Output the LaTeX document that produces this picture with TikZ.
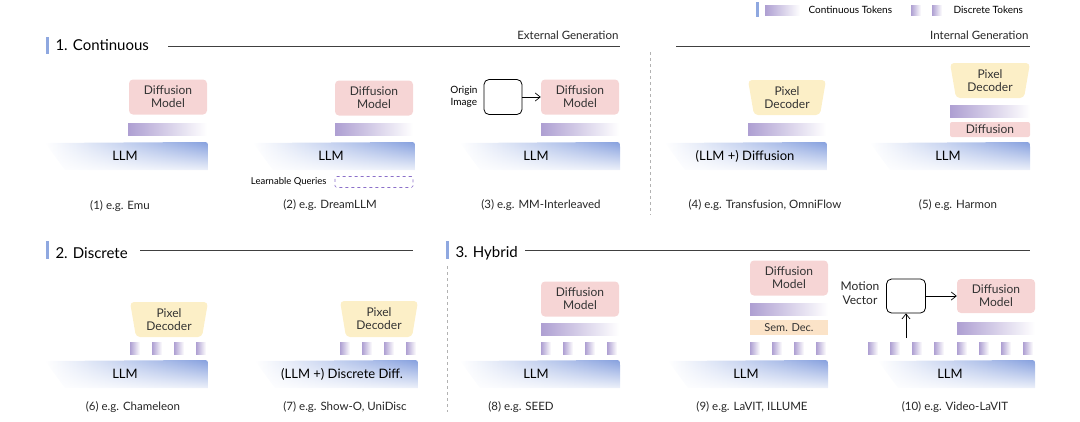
\documentclass[tikz,border=0pt]{standalone}
\usepackage{fontspec}
\setmainfont{Lato}
\usetikzlibrary{fadings,arrows.meta}
\definecolor{dm}{HTML}{F6D5D5}
\definecolor{pd}{HTML}{FCEFC7}
\definecolor{sd}{HTML}{FBE3C8}
\definecolor{tok}{HTML}{AE9FD2}
\definecolor{llmb}{HTML}{86A0DE}
\definecolor{secb}{HTML}{8FA8E0}
\definecolor{lqc}{HTML}{8B6FC9}
\tikzfading[name=llmfade, top color=transparent!0, bottom color=transparent!85]
\tikzset{
 dmbox/.style={fill=dm,rounded corners=4pt,inner sep=0pt,align=center,font=\fontsize{12}{13}\selectfont,text=black!80},
 captxt/.style={font=\fontsize{11.5}{12}\selectfont,text=black!85},
 llmtxt/.style={font=\fontsize{13}{14}\selectfont},
 head/.style={font=\fontsize{15}{16}\selectfont,anchor=west},
 hline/.style={draw=black!75,line width=0.8pt},
 arr/.style={-{Straight Barb[length=5pt,width=8pt]},line width=0.7pt},
}
\newcommand{\tokbar}[4]{\shade[left color=tok,right color=white] (#1,#3) rectangle (#2,#4);}
\newcommand{\dtoks}[3]{\foreach \xx in {#1}{\shade[left color=tok,right color=white] (\xx,#2) rectangle ++(10,#3);}}
\newcommand{\llmshape}[4]{\shade[left color=white,right color=llmb,path fading=llmfade]
  (#1,#3+1) -- (#2-6,#3) .. controls (#2,#3) .. (#2,#3+6) -- (#2,#4) -- (#1+20,#4) -- cycle;}
\newcommand{\pdec}[6]{\coordinate (#5) at ({(#1+#2)/2},{(#3+#4)/2});
  \fill[pd,rounded corners=4pt] (#1,#3) -- (#2,#3) -- (#2-6,#4) -- (#1+6,#4) -- cycle;
  \node[align=center,font=\fontsize{12}{13}\selectfont,text=black!80] (#5t) at (#5) {#6};}
\begin{document}
\begin{tikzpicture}[x=1pt,y=-1pt]
\useasboundingbox (0,0) rectangle (1080,421);
% legend
\fill[secb] (756,2) rectangle (759,17);
\tokbar{765}{800}{5}{15}
\node[font=\fontsize{10}{11}\selectfont,anchor=west] (lc) at (805,10) {Continuous Tokens};
\dtoks{911,932}{5}{10}
\node[font=\fontsize{10}{11}\selectfont,anchor=west] (ld) at (950,10) {Discrete Tokens};
% headings
\fill[secb] (46,37) rectangle (49,54);
\node[head] (h1) at (52,45) {1. Continuous};
\coordinate (l1a) at (168,46); \coordinate (l1b) at (620,46);
\draw[hline] (l1a) -- (l1b);
\node[captxt,anchor=south east] (eg) at (622,43) {External Generation};
\coordinate (l1c) at (676,46); \coordinate (l1d) at (1030,46);
\draw[hline] (l1c) -- (l1d);
\node[captxt,anchor=south east] (ig) at (1032,43) {Internal Generation};
\coordinate (v1a) at (650,52); \coordinate (v1b) at (650,215);
\draw[black!30,dashed] (v1a) -- (v1b);
\fill[secb] (46,241) rectangle (49,259);
\node[head] (h2) at (52,253) {2. Discrete};
\coordinate (l2a) at (140,250); \coordinate (l2b) at (413,250);
\draw[hline] (l2a) -- (l2b);
\fill[secb] (446,241) rectangle (449,259);
\node[head] (h3) at (452,253) {3. Hybrid};
\coordinate (l3a) at (525,250); \coordinate (l3b) at (1030,250);
\draw[hline] (l3a) -- (l3b);
\coordinate (v2a) at (447,266); \coordinate (v2b) at (447,412);
\draw[black!30,dashed] (v2a) -- (v2b);
% panel 1
\node[dmbox,minimum width=78pt,minimum height=35pt] (dm1) at (168,97) {Diffusion\\Model};
\tokbar{128}{207}{123}{135}
\llmshape{45}{208}{142}{170}
\node[llmtxt] (llm1) at (125,156) {LLM};
\node[captxt] (c1) at (120,206) {(1) e.g. Emu};
% panel 2
\node[dmbox,minimum width=78pt,minimum height=35pt] (dm2) at (374,98) {Diffusion\\Model};
\tokbar{335}{413}{123}{135}
\llmshape{253}{415}{142}{170}
\node[llmtxt] (llm2) at (331,156) {LLM};
\node[draw=lqc,dashed,line width=0.6pt,rounded corners=1.5pt,minimum width=78pt,minimum height=11pt,inner sep=0pt] (lq) at (374,182) {};
\node[font=\fontsize{9.5}{10}\selectfont,anchor=east] (lqt) at (330,182) {Learnable Queries};
\node[captxt] (c2) at (330,205) {(2) e.g. DreamLLM};
% panel 3
\node[draw,line width=0.8pt,rounded corners=5pt,minimum width=38pt,minimum height=35pt,inner sep=0pt] (oi) at (503,97) {};
\node[align=center,font=\fontsize{10}{12}\selectfont,anchor=east] (oit) at (481,97) {Origin\\Image};
\node[dmbox,minimum width=78pt,minimum height=35pt] (dm3) at (580,97) {Diffusion\\Model};
\draw[arr] (oi) -- (dm3);
\tokbar{541}{619}{123}{135}
\llmshape{460}{620}{142}{170}
\node[llmtxt] (llm3) at (536,156) {LLM};
\node[captxt] (c3) at (541,205) {(3) e.g. MM-Interleaved};
% panel 4
\pdec{748}{826}{80}{115}{pd4}{Pixel\\Decoder}
\tokbar{748}{826}{123}{135}
\llmshape{665}{827}{142}{170}
\node[llmtxt] (llm4) at (745,156) {(LLM +) Diffusion};
\node[captxt] (c4) at (765,205) {(4) e.g. Transfusion, OmniFlow};
% panel 5
\pdec{950}{1030}{63}{98}{pd5}{Pixel\\Decoder}
\tokbar{950}{1030}{105}{117}
\node[dmbox,minimum width=80pt,minimum height=15pt,rounded corners=2pt] (df5) at (990,129.5) {Diffusion};
\llmshape{870}{1030}{142}{170}
\node[llmtxt] (llm5) at (948,156) {LLM};
\node[captxt] (c5) at (958,205) {(5) e.g. Harmon};
% panel 6
\pdec{130}{208}{302}{337}{pd6}{Pixel\\Decoder}
\dtoks{130,152,174,196}{342}{12}
\llmshape{45}{208}{360}{388}
\node[llmtxt] (llm6) at (125,374) {LLM};
\node[captxt] (c6) at (133,407) {(6) e.g. Chameleon};
% panel 7
\pdec{340}{418}{301}{337}{pd7}{Pixel\\Decoder}
\dtoks{340,362,384,406}{342}{12}
\llmshape{255}{418}{360}{388}
\node[llmtxt] (llm7) at (342,374) {(LLM +) Discrete Diff.};
\node[captxt] (c7) at (345,407) {(7) e.g. Show-O, UniDisc};
% panel 8
\node[dmbox,minimum width=78pt,minimum height=35pt] (dm8) at (580,299) {Diffusion\\Model};
\tokbar{541}{619}{323}{335}
\dtoks{541,563,585,607}{342}{12}
\llmshape{460}{620}{360}{388}
\node[llmtxt] (llm8) at (536,374) {LLM};
\node[captxt] (c8) at (521,407) {(8) e.g. SEED};
% panel 9
\node[dmbox,minimum width=78pt,minimum height=35pt] (dm9) at (789,278) {Diffusion\\Model};
\tokbar{750}{828}{303}{315}
\node[fill=sd,minimum width=78pt,minimum height=15pt,inner sep=0pt,font=\fontsize{11}{12}\selectfont,text=black!80] (sd9) at (789,327.5) {Sem. Dec.};
\dtoks{750,772,794,816}{342}{12}
\llmshape{668}{828}{360}{388}
\node[llmtxt] (llm9) at (746,374) {LLM};
\node[captxt] (c9) at (752,407) {(9) e.g. LaVIT, ILLUME};
% panel 10
\node[align=center,font=\fontsize{12}{14}\selectfont,text=black!85] (mv) at (860,293) {Motion\\Vector};
\node[draw,line width=0.8pt,rounded corners=5pt,minimum width=39pt,minimum height=34pt,inner sep=0pt] (mb) at (906,296) {};
\node[dmbox,minimum width=78pt,minimum height=34pt] (dm10) at (996,296) {Diffusion\\Model};
\draw[arr] (mb) -- (dm10);
\coordinate (mvin) at (906,338);
\draw[arr] (mvin) -- (mb);
\tokbar{957}{1035}{322}{334}
\dtoks{868,890,912,934,957,979,1001,1023}{342}{12}
\llmshape{878}{1035}{360}{388}
\node[llmtxt] (llm10) at (950,374) {LLM};
\node[captxt] (c10) at (955,407) {(10) e.g. Video-LaVIT};
\end{tikzpicture}
\end{document}
